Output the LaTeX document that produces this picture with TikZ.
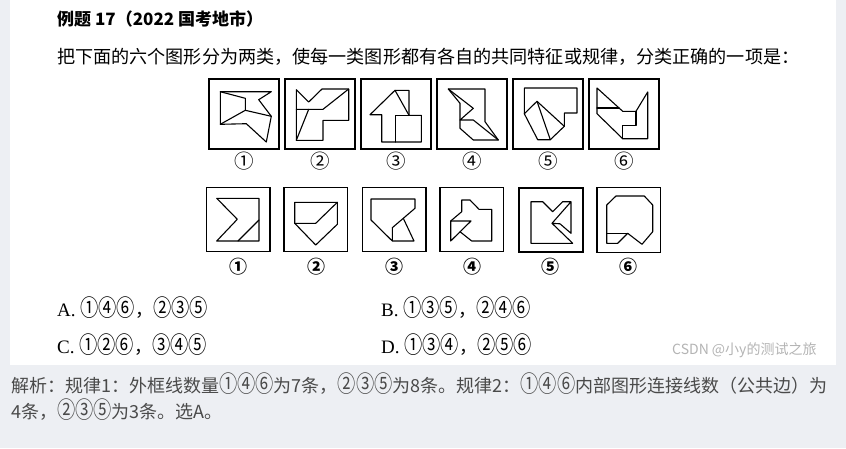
\documentclass[tikz,border=0pt]{standalone}
\usepackage{fontspec}
\setmainfont{Liberation Serif}
\newfontfamily\cjk{Noto Sans CJK SC}
\newfontfamily\cjkc{Noto Sans CJK SC}[Scale=1.3, FakeStretch=0.78]
\definecolor{bgout}{HTML}{EDEFF3}
\definecolor{expl}{HTML}{4A4A4A}
\definecolor{wm}{HTML}{B4B4B4}
\tikzset{
  figline/.style={line width=1.1pt, line join=round, line cap=round},
  frame/.style={line width=1.5pt},
  toplbl/.style={font=\cjk\fontsize{19.5}{20}\selectfont, inner sep=0},
  botlbl/.style={font=\cjk\bfseries\fontsize{18}{18}\selectfont, inner sep=0},
  txt/.style={anchor=west, inner sep=0},
}
\begin{document}
\begin{tikzpicture}[x=1pt,y=-1pt]
\useasboundingbox (0,0) rectangle (846,448);
\fill[bgout] (0,0) rectangle (846,448);
\fill[white] (10,0) rectangle (836,365);

% texts
\node[txt, font=\cjk\bfseries\fontsize{17}{18}\selectfont] (title) at (57,19) {例题 17（2022 国考地市）};
\node[txt, font=\cjk\fontsize{18.1}{19}\selectfont] (question) at (57,57) {把下面的六个图形分为两类，使每一类图形都有各自的共同特征或规律，分类正确的一项是：};

% top row frames
\foreach \i in {0,...,5}{
  \draw[frame] ({209+76*\i},79) rectangle ({279+76*\i},149);
}
% top 1
\draw[figline] (220.3,91.7)--(271.3,91.7)--(258.7,99.7)--(271.3,116.3)--(266.3,142)--(246.3,123.7)--(220.3,124.3)--cycle;
\draw[figline] (220.3,91.7)--(245.3,98.3)--(245.3,110.3);
\draw[figline] (220.3,124.3)--(245.3,110.3)--(271.3,116.3);
% top 2
\draw[figline] (296.3,89.7)--(308.7,102)--(322,89)--(348.7,89)--(348.7,120.3)--(323,120.3)--(323,140.3)--(296.3,140.3)--cycle;
\draw[figline] (296.3,109.3)--(323,109.3)--(348.7,89);
\draw[figline] (308.7,109.3)--(296.3,140.3);
% top 3
\draw[figline] (370,114.7)--(395,90.3)--(409,90.3)--(409,115.3)--(421.3,115.3)--(421.3,142)--(381.7,142)--(381.7,114.7)--cycle;
\draw[figline] (395,90.3)--(409,115.3);
\draw[figline] (409,115.3)--(395.7,115.3)--(395.7,142);
% top 4
\draw[figline] (448.3,89)--(485,89)--(485,121.7)--(498.3,140)--(473.3,140)--(460,128.3)--(460,103.3)--cycle;
\draw[figline] (448.3,89)--(473.3,108.3)--(460,120)--(473.3,120)--(498.3,140);
% top 5
\draw[figline] (524.3,88)--(577,88)--(577,113)--(564.3,113)--(564.3,126.3)--(550.3,139.7)--(537.7,139.7)--(524.3,113.7)--cycle;
\draw[figline] (524.3,113.7)--(537,101.3)--(564.3,126.3);
\draw[figline] (537,101.3)--(550.3,139.7);
% top 6
\draw[figline] (597,88)--(622.7,111.3)--(636,111.3)--(647.7,92)--(647.7,138.7)--(622.7,138.7)--(597,113.7)--cycle;
\draw[figline] (597,108)--(619,108);
\draw[figline] (636,111.3)--(636,125.3)--(622.7,125.3)--(622.7,138.7);

% top labels
\node[toplbl] (t1) at (244,161) {①};
\node[toplbl] (t2) at (320,161) {②};
\node[toplbl] (t3) at (396,161) {③};
\node[toplbl] (t4) at (472,161) {④};
\node[toplbl] (t5) at (548,161) {⑤};
\node[toplbl] (t6) at (624,161) {⑥};

% bottom frames
\draw[frame] (206.7,187.7) rectangle (270,251.7);
\draw[frame] (284,187.7) rectangle (347.3,251.7);
\draw[frame] (362.7,187.7) rectangle (426,251.7);
\draw[frame] (440,187.7) rectangle (503.3,251.7);
\draw[frame, line width=1.9pt] (518.7,187.7) rectangle (582.7,252.3);
\draw[frame] (597,187.7) rectangle (660.3,252.3);
% bottom 1
\draw[figline] (216.7,198.3)--(259,198.3)--(259,241)--(216.7,241)--(237.3,219.3)--cycle;
\draw[figline] (238,241)--(259,220);
% bottom 2
\draw[figline] (294.7,202.3)--(337.3,202.3)--(337.3,224.3)--(315.7,245)--(294.7,223.3)--cycle;
\draw[figline] (294.7,223.3)--(315.7,223.3)--(337.3,202.3);
% bottom 3
\draw[figline] (392.3,241)--(392.3,227.7)--(415,208.3)--(415,199)--(371,199)--(371,220)--(392.3,241)--(414,241)--(403.3,218.3);
% bottom 4
\draw[figline] (460,231.7)--(471.7,241)--(491.7,241)--(491.7,209.3)--(479,209.3)--(470,200)--(461.7,200)--(461.7,211.7)--(450.7,221);
\draw[figline] (450.7,221)--(471,221)--(450.7,241)--cycle;
% bottom 5
\draw[figline] (571,201.7)--(562.7,201.7)--(552.7,211.7)--(542.7,201.7)--(531,201.7)--(531,243.3)--(572.7,243.3)--(552,223.3)--(571,201.7)--(571,233.3)--(560,223.8)--(552,223.3);
% bottom 6
\draw[figline] (616,196)--(644.3,196)--(652.7,205)--(652.7,231.7)--(642,244.3)--(627.7,233.3)--(617.7,243.3)--(606.7,243.3)--(606.7,205)--cycle;
\draw[figline] (606.7,233.3)--(627.7,233.3);

% bottom labels
\node[botlbl] (b1) at (238,267) {①};
\node[botlbl] (b2) at (316,267) {②};
\node[botlbl] (b3) at (394,267) {③};
\node[botlbl] (b4) at (472,267) {④};
\node[botlbl] (b5) at (550,267) {⑤};
\node[botlbl] (b6) at (628,267) {⑥};

% options
\node[txt, font=\fontsize{19}{19}\selectfont] (oa) at (57,308) {A.~{\fontsize{18}{18}\selectfont\cjkc ①④⑥}{\fontsize{18}{18}\selectfont\cjk ，}{\fontsize{18}{18}\selectfont\cjkc ②③⑤}};
\node[txt, font=\fontsize{19}{19}\selectfont] (ob) at (381,308) {B.~{\fontsize{18}{18}\selectfont\cjkc ①③⑤}{\fontsize{18}{18}\selectfont\cjk ，}{\fontsize{18}{18}\selectfont\cjkc ②④⑥}};
\node[txt, font=\fontsize{19}{19}\selectfont] (oc) at (57,345) {C.~{\fontsize{18}{18}\selectfont\cjkc ①②⑥}{\fontsize{18}{18}\selectfont\cjk ，}{\fontsize{18}{18}\selectfont\cjkc ③④⑤}};
\node[txt, font=\fontsize{19}{19}\selectfont] (od) at (381,345) {D.~{\fontsize{18}{18}\selectfont\cjkc ①③④}{\fontsize{18}{18}\selectfont\cjk ，}{\fontsize{18}{18}\selectfont\cjkc ②⑤⑥}};
\node[txt, text=wm, font=\cjk\fontsize{14}{14}\selectfont] (wmark) at (672,350) {CSDN @小y的测试之旅};

% explanation
\node[txt, text=expl, font=\cjk\fontsize{18}{18}\selectfont] (ex1) at (11,384) {解析：规律1：外框线数量{\cjkc ①④⑥}为7条，{\cjkc ②③⑤}为8条。规律2：{\cjkc ①④⑥}内部图形连接线数（公共边）为};
\node[txt, text=expl, font=\cjk\fontsize{18}{18}\selectfont] (ex2) at (11,410) {4条，{\cjkc ②③⑤}为3条。选A。};
\end{tikzpicture}
\end{document}
